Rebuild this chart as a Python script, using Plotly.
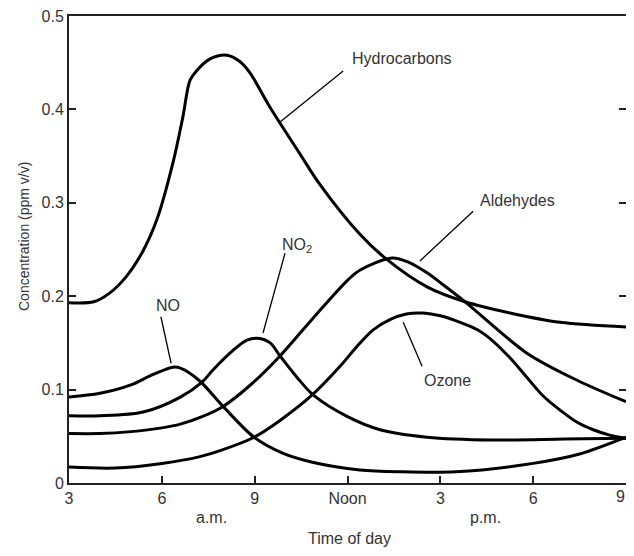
import plotly.graph_objects as go

# ---- data (hours since midnight; 12 = noon) ----
hc_t = [3, 3.8, 4.3, 4.85, 5.4, 5.84, 6.36, 6.68, 6.91, 7.14, 7.56, 8.1, 8.53, 8.85, 9.5, 10.47, 11.1, 12.41, 13.21, 14.57, 15.8, 17.25, 18.87, 21]
hc_v = [0.193, 0.194, 0.203, 0.221, 0.249, 0.282, 0.343, 0.392, 0.431, 0.442, 0.454, 0.458, 0.451, 0.439, 0.402, 0.352, 0.320, 0.266, 0.241, 0.210, 0.194, 0.182, 0.172, 0.167]

no_t = [3, 4.0, 5.0, 5.7, 6.36, 6.6, 7.2, 7.98, 8.98, 9.9, 10.9, 12.4, 13.7, 15.5, 18.0, 19.5, 21]
no_v = [0.092, 0.096, 0.105, 0.116, 0.124, 0.123, 0.110, 0.082, 0.049, 0.032, 0.022, 0.014, 0.012, 0.012, 0.021, 0.031, 0.049]

no2_t = [3, 4.0, 5.4, 6.6, 7.3, 7.65, 8.3, 8.75, 9.1, 9.5, 9.82, 10.37, 10.9, 12.0, 13.05, 14.57, 16.7, 19.0, 21]
no2_v = [0.072, 0.072, 0.076, 0.092, 0.108, 0.121, 0.142, 0.153, 0.155, 0.150, 0.136, 0.113, 0.094, 0.071, 0.057, 0.049, 0.046, 0.047, 0.048]

ald_t = [3, 4.0, 5.0, 6.0, 6.6, 7.3, 7.98, 8.9, 9.82, 10.9, 12.0, 12.41, 13.44, 14.0, 14.57, 15.1, 15.8, 17.8, 19.42, 21]
ald_v = [0.053, 0.053, 0.055, 0.059, 0.063, 0.071, 0.082, 0.106, 0.136, 0.177, 0.217, 0.228, 0.241, 0.236, 0.225, 0.212, 0.194, 0.139, 0.110, 0.087]

oz_t = [3, 4.5, 6.0, 7.2, 8.0, 8.98, 9.82, 10.85, 11.76, 12.3, 12.83, 13.37, 13.9, 14.45, 15.0, 15.64, 16.2, 16.7, 17.25, 17.8, 18.3, 18.87, 19.42, 19.94, 20.5, 21]
oz_v = [0.017, 0.016, 0.021, 0.028, 0.036, 0.049, 0.067, 0.094, 0.125, 0.146, 0.164, 0.175, 0.181, 0.182, 0.179, 0.172, 0.164, 0.152, 0.134, 0.113, 0.094, 0.078, 0.065, 0.057, 0.051, 0.048]

tick_vals = [3, 6, 9, 12, 15, 18, 21]
tick_text = ["3", "6", "9", "Noon", "3", "6", "9"]
y_ticks = [0, 0.1, 0.2, 0.3, 0.4, 0.5]
y_text = ["0", "0.1", "0.2", "0.3", "0.4", "0.5"]

series = [
    ("Hydrocarbons", hc_t, hc_v),
    ("NO", no_t, no_v),
    ("NO2", no2_t, no2_v),
    ("Aldehydes", ald_t, ald_v),
    ("Ozone", oz_t, oz_v),
]

TXT = "#333333"
FONT = "Liberation Sans, Arial, sans-serif"

fig = go.Figure()
for name, t, v in series:
    fig.add_trace(go.Scatter(
        x=t, y=v, mode="lines", name=name,
        line=dict(color="black", width=3, shape="spline", smoothing=0.9),
        showlegend=False, hoverinfo="x+y+name",
    ))

# labels with leader lines: (text, text_x, text_y, line x0,y0,x1,y1)
labels = [
    ("Hydrocarbons", 13.76, 0.454, 9.82, 0.3865, 11.86, 0.441),
    ("Aldehydes", 17.48, 0.302, 14.34, 0.2377, 16.06, 0.291),
    ("NO<sub>2</sub>", 10.36, 0.254, 9.27, 0.1606, 9.98, 0.246),
    ("NO", 6.2, 0.19, 6.30, 0.128, 5.97, 0.178),
    ("Ozone", 15.22, 0.110, 13.80, 0.172, 14.41, 0.125),
]
annotations = []
shapes = []
for txt, tx, ty, x0, y0, x1, y1 in labels:
    annotations.append(dict(x=tx, y=ty, xref="x", yref="y", text=txt, showarrow=False,
                            font=dict(size=16, color=TXT, family=FONT),
                            xanchor="center", yanchor="middle"))
    shapes.append(dict(type="line", xref="x", yref="y", x0=x0, y0=y0, x1=x1, y1=y1,
                       line=dict(color="black", width=1.3)))

annotations += [
    dict(x=(211 - 69) / 557, y=-(517 - 483) / 467, xref="paper", yref="paper", text="a.m.",
         showarrow=False, font=dict(size=16, color=TXT, family=FONT), xanchor="center", yanchor="middle"),
    dict(x=(485 - 69) / 557, y=-(517 - 483) / 467, xref="paper", yref="paper", text="p.m.",
         showarrow=False, font=dict(size=16, color=TXT, family=FONT), xanchor="center", yanchor="middle"),
    dict(x=(349 - 69) / 557, y=-(538 - 483) / 467, xref="paper", yref="paper", text="Time of day",
         showarrow=False, font=dict(size=16, color=TXT, family=FONT), xanchor="center", yanchor="middle"),
    dict(x=(24 - 69) / 557, y=(483 - 237) / 467, xref="paper", yref="paper", text="Concentration (ppm v/v)",
         textangle=-90, showarrow=False, font=dict(size=14, color=TXT, family=FONT),
         xanchor="center", yanchor="middle"),
    # last tick label, kept just inside the window edge so it is not cut
    dict(x=tick_vals[-1], y=0, xref="x", yref="paper", text=tick_text[-1], showarrow=False,
         font=dict(size=16, color=TXT, family=FONT), xanchor="right", yanchor="top",
         xshift=1, yshift=-3),
]

# page body has an 8px margin: figure sized so the plot area lands at x 69-626, y 16-483
# without making the page taller than the window
fig.update_layout(
    width=626, height=540,
    margin=dict(l=61, r=8, t=8, b=65, autoexpand=False),
    paper_bgcolor="white", plot_bgcolor="white",
    font=dict(family=FONT, size=16, color=TXT),
    annotations=annotations, shapes=shapes,
    xaxis=dict(range=[3, 21], tickvals=tick_vals[:-1], ticktext=tick_text[:-1], automargin=False,
               showgrid=False, zeroline=False, showline=True, linecolor="#222", linewidth=2,
               mirror=True, ticks="inside", ticklen=7, tickwidth=1.5, tickcolor="#222",
               ticklabeloverflow="allow",
               tickfont=dict(size=16, color=TXT, family=FONT)),
    yaxis=dict(range=[0, 0.5], tickvals=y_ticks, ticktext=y_text, automargin=False,
               showgrid=False, zeroline=False, showline=True, linecolor="#222", linewidth=2,
               mirror="ticks", ticks="inside", ticklen=7, tickwidth=1.5, tickcolor="#222",
               ticklabeloverflow="allow",
               tickfont=dict(size=16, color=TXT, family=FONT)),
)

fig.write_html("out.html")
